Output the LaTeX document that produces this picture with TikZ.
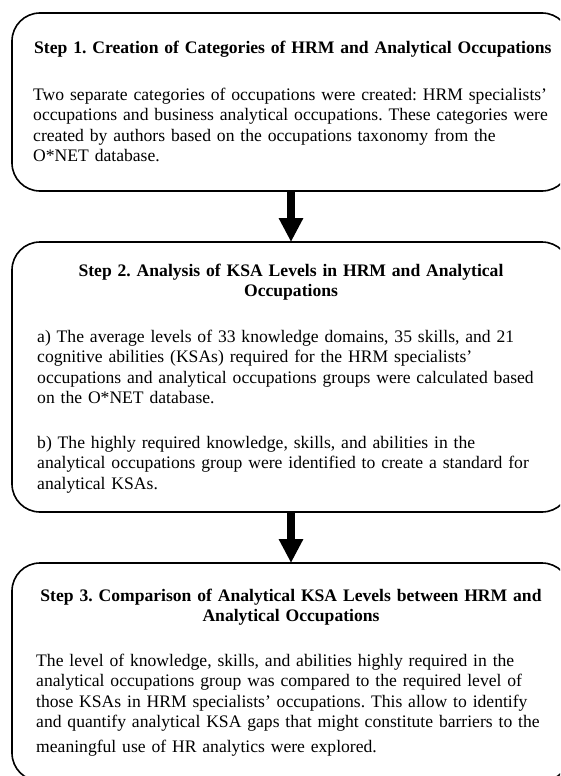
\documentclass[tikz,border=0pt]{standalone}
\usepackage{fontspec}
\setmainfont{Liberation Serif}
\usetikzlibrary{arrows.meta, positioning}

\begin{document}
\begin{tikzpicture}[
  x=1pt, y=-1pt,
  node distance=51pt,
  stepbox/.style={draw, line width=1.6pt, rounded corners=28pt,
                  minimum width=558pt, inner sep=0pt, outer sep=0pt},
  steptitle/.style={font=\fontsize{17.6}{20}\selectfont\bfseries\frenchspacing,
                    text width=540pt, align=center, inner sep=0pt, anchor=base},
  stepbody/.style={font=\fontsize{17.6}{20.5}\selectfont\frenchspacing,
                   text width=535pt, align=left, inner sep=0pt, anchor=base west},
  flow/.style={-{Triangle[width=23pt, length=24pt]}, line width=8pt}
]
  \useasboundingbox (0,0) rectangle (560,776);
  \clip (0,0) rectangle (560,776);
  % the three step boxes
  \node[stepbox, minimum height=178pt, anchor=north west] (box1) at (12,13) {};
  \node[stepbox, minimum height=270pt, below=of box1] (box2) {};
  \node[stepbox, minimum height=218pt, below=of box2] (box3) {};
  % step 1
  \node[steptitle, align=left, anchor=base west] (title1) at (34,54)
    {Step 1. Creation of Categories of HRM and Analytical Occupations};
  \node[stepbody] (body1) at (33,100)
    {Two separate categories of occupations were created: HRM specialists’\\
     occupations and business analytical occupations. These categories were\\
     created by authors based on the occupations taxonomy from the\\
     O*NET database.};
  % step 2
  \node[steptitle] (title2) at (291,276)
    {Step 2.\ Analysis of KSA Levels in HRM and Analytical\\
     Occupations};
  \node[stepbody] (body2a) at (37,342)
    {a) The average levels of 33 knowledge domains, 35 skills, and 21\\
     cognitive abilities (KSAs) required for the HRM specialists’\\
     occupations and analytical occupations groups were calculated based\\
     on the O*NET database.};
  \node[stepbody] (body2b) at (37,448)
    {b) The highly required knowledge, skills, and abilities in the\\
     analytical occupations group were identified to create a standard for\\
     analytical KSAs.};
  % step 3
  \node[steptitle] (title3) at (291,601)
    {Step 3. Comparison of Analytical KSA Levels between HRM and\\
     Analytical Occupations};
  \node[stepbody] (body3) at (36,666)
    {The level of knowledge, skills, and abilities highly required in the\\
     analytical occupations group was compared to the required level of\\
     those KSAs in HRM specialists’ occupations. This allow to identify\\
     and quantify analytical KSA gaps that might constitute barriers to the\\[4.5pt]
     meaningful use of HR analytics were explored.};
  % arrows between the steps
  \draw[flow] (box1) -- (box2);
  \draw[flow] (box2) -- (box3);
\end{tikzpicture}
\end{document}
